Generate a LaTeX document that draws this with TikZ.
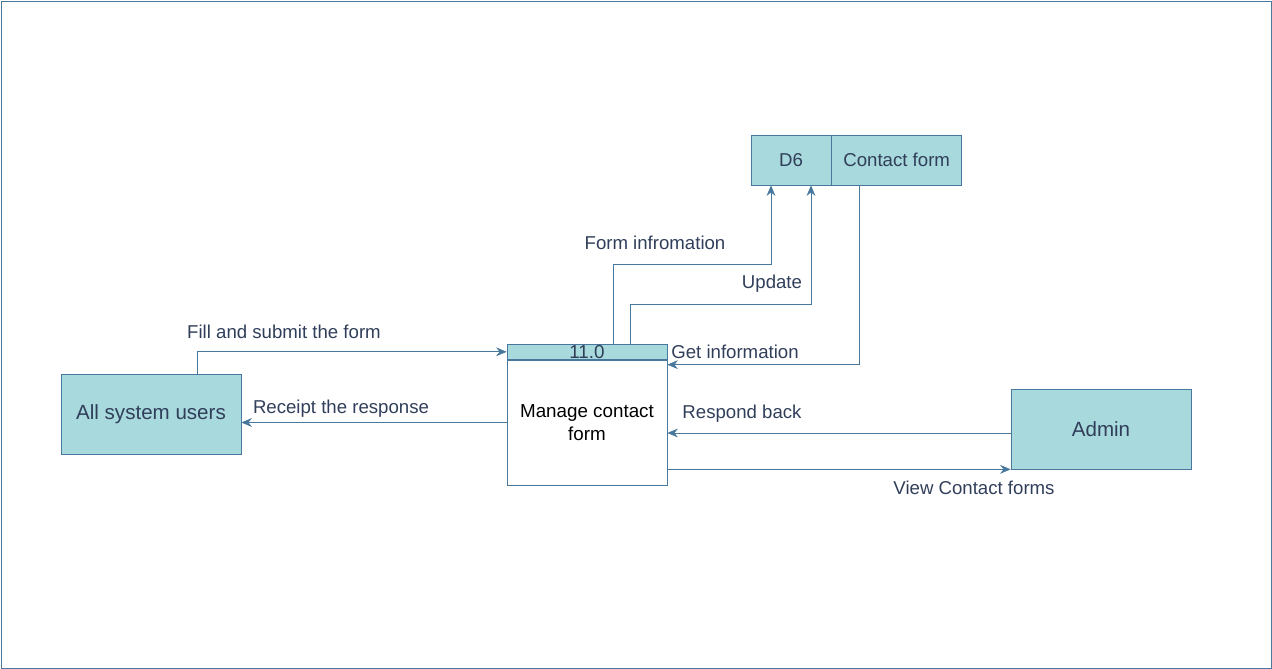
\documentclass[tikz,border=0pt]{standalone}
\usepackage{fontspec}
\setmainfont{Liberation Sans}
\usetikzlibrary{positioning,calc,arrows.meta}
\definecolor{boxfill}{RGB}{168,217,220}
\definecolor{edge}{RGB}{72,120,156}
\definecolor{ink}{RGB}{48,62,90}
\tikzset{
  entity/.style={draw=edge,fill=boxfill,text=ink,inner sep=0pt,font=\fontsize{11.7}{14}\selectfont},
  store/.style={draw=edge,fill=boxfill,text=ink,inner sep=0pt,minimum height=1cm,font=\fontsize{10.6}{13}\selectfont},
  flow/.style={draw=edge,-{Stealth[length=6pt,width=5pt]}},
  lbl/.style={text=ink,inner sep=0pt,font=\fontsize{10.6}{13}\selectfont}
}
\begin{document}
\begin{tikzpicture}[x=0.02cm,y=-0.02cm]
	\useasboundingbox (0,0) rectangle (1272,669);
	\draw[edge] (1,1) rectangle (1271,668);
	% entities and store
	\node[entity,minimum width=3.6cm,minimum height=1.6cm] (users) at (151,414) {\raisebox{-2pt}{All system users}};
	\node[entity,minimum width=3.6cm,minimum height=1.6cm] (admin) at (1101,429) {Admin};
	\node[store,minimum width=1.6cm] (d6) at (791,160) {D6};
	\node[store,minimum width=2.6cm,right=0pt of d6] (cform) {Contact form};
	% process 11.0
	\node[draw=edge,fill=white,inner sep=0pt,minimum width=3.2cm,minimum height=2.5cm,align=center,
		font=\fontsize{10.7}{13}\selectfont] (proc) at (587,422.5) {Manage contact\\form};
	\node[draw=edge,fill=boxfill,text=ink,inner sep=0pt,minimum width=3.2cm,minimum height=0.3cm,
		above=0pt of proc,font=\fontsize{10.7}{12}\selectfont] (hdr) {11.0};
	% flows
	\draw[flow] ($(users.north)+(46,0)$) |- (hdr.west);
	\draw[flow] (proc.west) -- (proc.west -| users.east);
	\draw[flow] ($(hdr.north west)+(107,0)$) -- ++(0,-80) -| ($(d6.south)+(-20,0)$);
	\draw[flow] ($(hdr.north west)+(124,0)$) -- ++(0,-40) -| ($(d6.south)+(20,0)$);
	\draw[flow] ($(cform.south)+(-37,0)$) |- ($(proc.north east)+(0,5)$);
	\draw[flow] ($(admin.west)+(0,4)$) coordinate (rb) -- (rb -| proc.east);
	\draw[flow] (admin.south west -| proc.east) -- (admin.south west);
	% labels
	\node[lbl] (lfill) at (284,332) {Fill and submit the form};
	\node[lbl] (lrec) at (341,409) {Receipt the response};
	\node[lbl] (lform) at (655,243) {Form infromation};
	\node[lbl] (lupd) at (772,284) {Update};
	\node[lbl] (lget) at (735,352) {Get information};
	\node[lbl] (lresp) at (742,414) {Respond back};
	\node[lbl] (lview) at (974,488) {View Contact forms};
\end{tikzpicture}
\end{document}
